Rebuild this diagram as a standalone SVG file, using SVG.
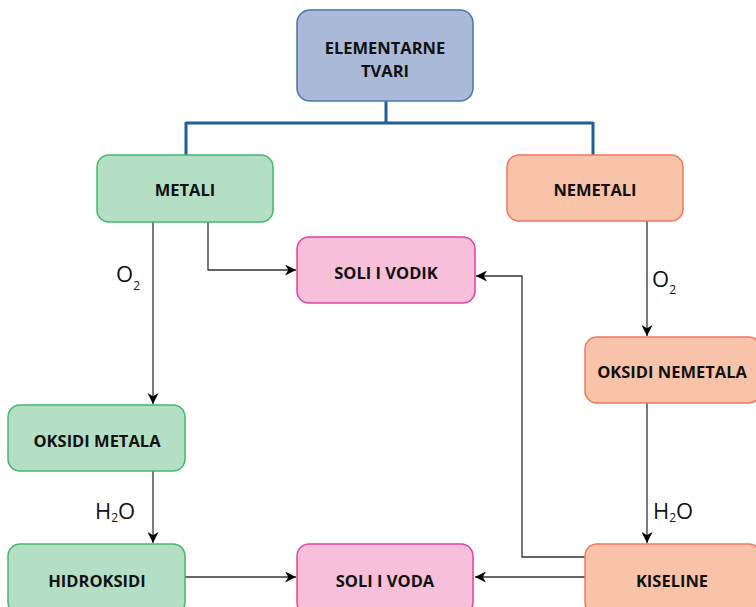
<svg xmlns="http://www.w3.org/2000/svg" width="756" height="607" viewBox="0 0 756 607">
<defs>
<marker id="ah" viewBox="0 0 10 10" refX="10" refY="5" markerWidth="11" markerHeight="11" markerUnits="userSpaceOnUse" orient="auto">
<path d="M0,0 L10,5 L0,10 L3,5 Z" fill="#000"/>
</marker>
<style>
.blue{fill:#aab9d8;stroke:#4a75a5;stroke-width:1.5}
.green{fill:#b5dfc5;stroke:#3cba6c;stroke-width:1.5}
.pink{fill:#f7bfd9;stroke:#e3409b;stroke-width:1.5}
.orange{fill:#f9c3aa;stroke:#f2775a;stroke-width:1.5}
.t{font-family:"Open Sans","Liberation Sans",sans-serif;font-weight:bold;font-size:16.5px;fill:#111;text-anchor:middle;dominant-baseline:central}
.c{fill:none;stroke:#333;stroke-width:1.3}
.bus{fill:none;stroke:#1f5f9a;stroke-width:3}
.lbl{font-family:"Open Sans","Liberation Sans",sans-serif;font-size:22px;fill:#111}
.sub{font-size:12px}
</style>
</defs>
<g id="connectors">
<path class="bus" d="M386,101 V123 M186,123 H593 M186,122 V156 M593,122 V156"/>
<path class="c" d="M208,222 V270 H296" marker-end="url(#ah)"/>
<path class="c" d="M153,222 V404" marker-end="url(#ah)"/>
<path class="c" d="M153,471 V543" marker-end="url(#ah)"/>
<path class="c" d="M185,577 H296" marker-end="url(#ah)"/>
<path class="c" d="M647,221 V336" marker-end="url(#ah)"/>
<path class="c" d="M647,403 V543" marker-end="url(#ah)"/>
<path class="c" d="M585,577 H475" marker-end="url(#ah)"/>
<path class="c" d="M585,557 H522 V276 H476" marker-end="url(#ah)"/>
</g>
<g id="labels">
<text class="lbl" x="116" y="282">O<tspan class="sub" dy="8">2</tspan></text>
<text class="lbl" x="652" y="287">O<tspan class="sub" dy="7">2</tspan></text>
<text class="lbl" x="95" y="519">H<tspan class="sub" dy="3">2</tspan><tspan dy="-3">O</tspan></text>
<text class="lbl" x="653" y="519">H<tspan class="sub" dy="3">2</tspan><tspan dy="-3">O</tspan></text>
</g>
<g id="elementarne">
<rect class="blue" x="297" y="10" width="176" height="91" rx="13"/>
<text class="t" x="385" y="47">ELEMENTARNE</text>
<text class="t" x="385" y="70">TVARI</text>
</g>
<g id="metali">
<rect class="green" x="97" y="155" width="176" height="67" rx="12"/>
<text class="t" x="185" y="189">METALI</text>
</g>
<g id="nemetali">
<rect class="orange" x="507" y="155" width="176" height="66" rx="12"/>
<text class="t" x="595" y="189">NEMETALI</text>
</g>
<g id="soli-vodik">
<rect class="pink" x="297" y="237" width="178" height="66" rx="12"/>
<text class="t" x="386" y="272">SOLI I VODIK</text>
</g>
<g id="oksidi-nemetala">
<rect class="orange" x="585" y="337" width="176" height="66" rx="12"/>
<text class="t" x="672" y="371">OKSIDI NEMETALA</text>
</g>
<g id="oksidi-metala">
<rect class="green" x="8" y="405" width="177" height="66" rx="12"/>
<text class="t" x="97" y="440">OKSIDI METALA</text>
</g>
<g id="hidroksidi">
<rect class="green" x="8" y="544" width="177" height="70" rx="12"/>
<text class="t" x="97" y="580">HIDROKSIDI</text>
</g>
<g id="soli-voda">
<rect class="pink" x="297" y="544" width="176" height="70" rx="12"/>
<text class="t" x="385" y="580">SOLI I VODA</text>
</g>
<g id="kiseline">
<rect class="orange" x="585" y="544" width="176" height="70" rx="12"/>
<text class="t" x="672" y="580">KISELINE</text>
</g>
</svg>
